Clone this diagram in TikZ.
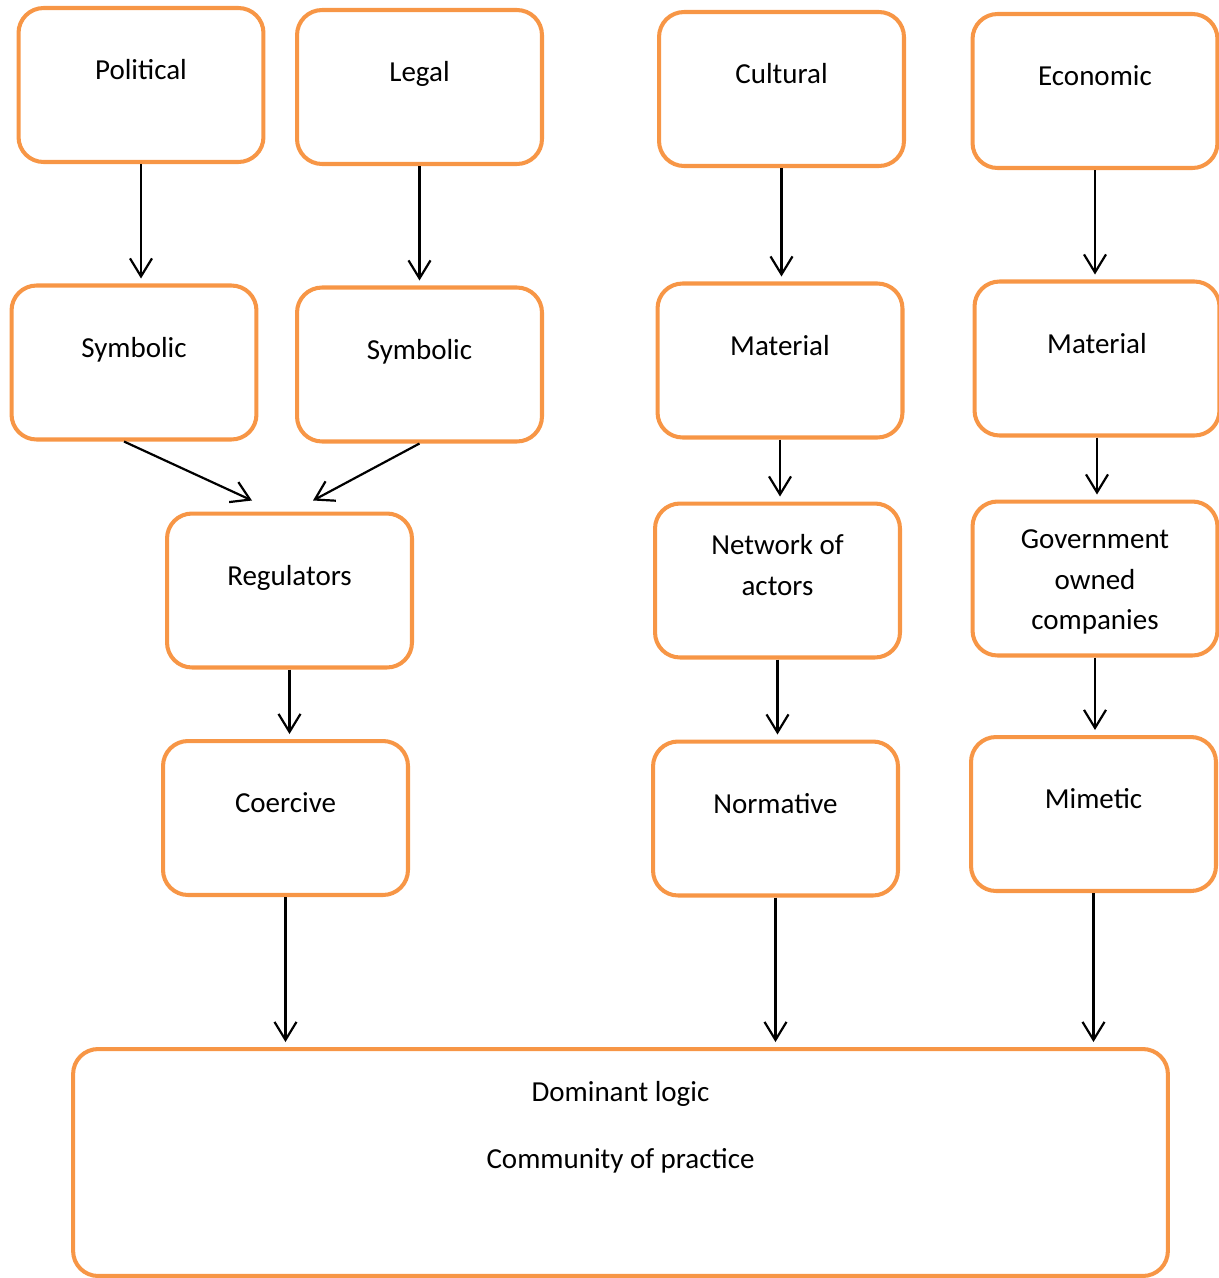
\documentclass[tikz,border=0pt]{standalone}
\usepackage{fontspec}
\setmainfont{Carlito}
\usetikzlibrary{arrows.meta,calc}

\definecolor{boxorange}{RGB}{247,150,70}
% text sits a little above the middle of each box
\newcommand{\boxtext}[2][0.12cm]{\raisebox{#1}[0pt][0pt]{\begin{tabular}{@{}c@{}}#2\end{tabular}}}

\begin{document}
\begin{tikzpicture}[x=0.02cm,y=-0.02cm,
	box/.style={draw=boxorange,line width=2.3pt,rounded corners=0.5cm,
		minimum width=4.9cm,minimum height=3.08cm,inner sep=0pt,
		font=\fontsize{16.5}{23.2}\selectfont},
	flow/.style={-{Straight Barb[length=3.6mm,width=4.4mm]},line width=1.25pt,shorten >=0.1cm}]
	\useasboundingbox (0,0) rectangle (1219,1278);
	% first row
	\node[box] (pol) at (141,85) {\boxtext{Political}};
	\node[box] (leg) at (419.5,87) {\boxtext{Legal}};
	\node[box] (cul) at (781.5,89) {\boxtext{Cultural}};
	\node[box] (eco) at (1095,91) {\boxtext{Economic}};
	% second row
	\node[box] (sym1) at (134,362.5) {\boxtext{Symbolic}};
	\node[box] (sym2) at (419.5,364.5) {\boxtext{Symbolic}};
	\node[box] (mat1) at (780,360.5) {\boxtext{Material}};
	\node[box] (mat2) at (1097,358.5) {\boxtext{Material}};
	% third row
	\node[box] (reg) at (289.5,590.5) {\boxtext{Regulators}};
	\node[box] (net) at (777.5,580.5) {\boxtext{Network of\\actors}};
	\node[box] (gov) at (1095,578.5) {\boxtext[-0.2cm]{Government\\owned\\companies}};
	% fourth row
	\node[box] (coe) at (285.5,818) {\boxtext{Coercive}};
	\node[box] (nor) at (775.5,818.5) {\boxtext{Normative}};
	\node[box] (mim) at (1093.5,814) {\boxtext{Mimetic}};
	% bottom
	\node[box,minimum width=21.9cm,minimum height=4.54cm] (dom) at (620.5,1162.5)
		{\boxtext[0.57cm]{Dominant logic\\[15pt]Community of practice}};
	\draw[flow] (pol.south) -- (pol.south |- sym1.north);
	\draw[flow] (leg.south) -- (leg.south |- sym2.north);
	\draw[flow] (cul.south) -- (cul.south |- mat1.north);
	\draw[flow] (eco.south) -- (eco.south |- mat2.north);
	\draw[flow,shorten >=0pt] ($(sym1.south)+(-10,0)$) -- ($(reg.north)+(-37.5,-11)$);
	\draw[flow,shorten >=0pt] (sym2.south) -- ($(reg.north)+(23.5,-11)$);
	\draw[flow] (mat1.south) -- (mat1.south |- net.north);
	\draw[flow] (mat2.south) -- (mat2.south |- gov.north);
	\draw[flow] (reg.south) -- (reg.south |- coe.north);
	\draw[flow] (net.south) -- (net.south |- nor.north);
	\draw[flow] (gov.south) -- (gov.south |- mim.north);
	\draw[flow] (coe.south) -- (coe.south |- dom.north);
	\draw[flow] (nor.south) -- (nor.south |- dom.north);
	\draw[flow] (mim.south) -- (mim.south |- dom.north);
\end{tikzpicture}
\end{document}
